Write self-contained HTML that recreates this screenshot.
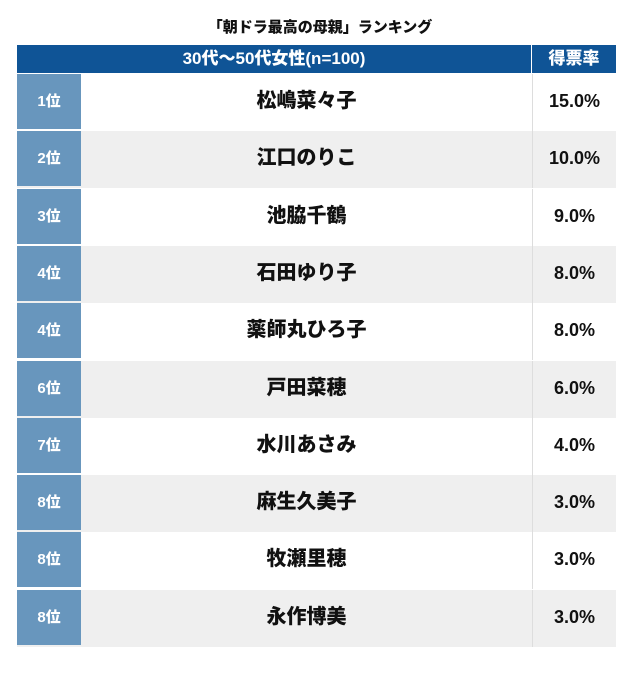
<!DOCTYPE html>
<html><head><meta charset="utf-8"><style>
body{margin:0;background:#fff;width:640px;height:683px;font-family:"Liberation Sans","Noto Sans CJK JP",sans-serif;font-weight:bold;}
.t{position:absolute;top:16px;left:0;width:640px;text-align:center;font-size:15px;color:#111;font-weight:900;}
.h{position:absolute;top:45px;height:28px;background:#0f5496;color:#fff;font-size:17px;line-height:28px;text-align:center;font-weight:900;}
.r{position:absolute;left:17px;width:599px;height:57px;}
.rk{position:absolute;left:0;top:0;width:64px;height:55px;background:#6896bd;color:#fff;font-size:15px;line-height:55px;text-align:center;font-weight:900;}
.nm{position:absolute;left:64px;width:451px;top:0;height:57px;line-height:55px;text-align:center;font-size:20px;color:#111;font-weight:900;}
.pc{position:absolute;left:515px;width:84px;top:0;height:57px;line-height:55px;text-align:center;font-size:18px;color:#111;border-left:1px solid #ddd;box-sizing:border-box;font-weight:900;}
</style></head><body>
<div class="t">「朝ドラ最高の母親」ランキング</div>
<div class="h" style="left:17px;width:514px">30代〜50代女性(n=100)</div>
<div class="h" style="left:532px;width:84px">得票率</div>
<div id="rows"></div>
<script>
var d=[["1位","松嶋菜々子","15.0%"],["2位","江口のりこ","10.0%"],["3位","池脇千鶴","9.0%"],["4位","石田ゆり子","8.0%"],["4位","薬師丸ひろ子","8.0%"],["6位","戸田菜穂","6.0%"],["7位","水川あさみ","4.0%"],["8位","麻生久美子","3.0%"],["8位","牧瀬里穂","3.0%"],["8位","永作博美","3.0%"]];
var h="";d.forEach(function(x,i){var y=74+i*57.3;var bg=i%2?"#efefef":"#fff";
h+='<div class="r" style="top:'+y+'px;background:'+bg+'"><div class="rk">'+x[0]+'</div><div class="nm">'+x[1]+'</div><div class="pc">'+x[2]+'</div></div>';});
document.getElementById("rows").innerHTML=h;
</script>
</body></html>
